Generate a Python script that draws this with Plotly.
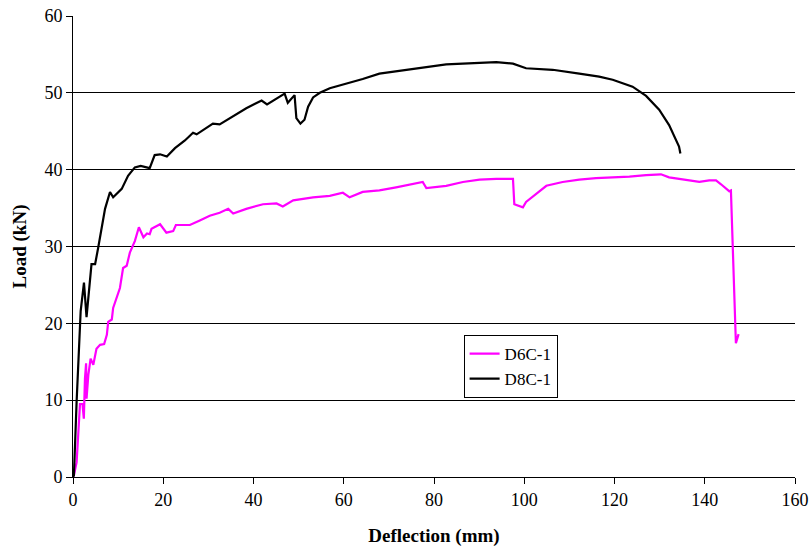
import plotly.graph_objects as go

# D6C-1 (magenta)
d6_x = [0, 0.2, 0.8, 1.2, 1.55, 2.1, 2.4, 2.65, 2.9, 3.0, 3.4, 3.9, 4.5, 5.2, 6.0, 6.9, 7.5, 7.8,
        8.6, 8.9, 10.4, 11.1, 11.9, 12.6, 13.7, 14.6, 15.6, 16.4, 17.0, 17.4, 19.3, 20.7, 22.2, 22.8,
        25.9, 28.1, 30.3, 32.5, 34.4, 35.5, 38.4, 42.1, 45.1, 46.5, 48.8, 53.2, 56.9, 59.8, 61.3,
        64.2, 67.9, 71.6, 75.3, 77.5, 78.3, 82.7, 86.4, 90.1, 93.8, 97.5, 97.8, 99.0, 99.7, 100.4,
        104.9, 108.5, 112.2, 115.9, 123.3, 127.0, 130.3, 132.1, 134.3, 136.5, 138.8, 141.0, 142.5,
        143.6, 144.7, 145.4, 145.8, 146.9, 147.5]
d6_y = [0, 0.2, 1.9, 5.8, 9.5, 9.5, 7.6, 12.8, 14.8, 10.2, 13.3, 15.4, 14.6, 16.7, 17.2, 17.3, 18.5, 20.2,
        20.5, 22.0, 24.6, 27.2, 27.5, 29.2, 30.7, 32.5, 31.2, 31.7, 31.6, 32.3, 32.9, 31.8, 32.0, 32.8,
        32.8, 33.4, 34.0, 34.4, 34.9, 34.3, 34.9, 35.5, 35.6, 35.2, 36.0, 36.4, 36.6, 37.0, 36.4,
        37.1, 37.3, 37.7, 38.2, 38.4, 37.6, 37.9, 38.4, 38.7, 38.8, 38.8, 35.5, 35.2, 35.1, 35.8,
        37.9, 38.4, 38.7, 38.9, 39.1, 39.3, 39.4, 39.0, 38.8, 38.6, 38.4, 38.6, 38.6,
        38.1, 37.5, 37.2, 37.3, 17.4, 18.6]

# D8C-1 (black)
d8_x = [0, 0.2, 0.8, 1.55, 1.7, 2.43, 3.0, 4.1, 4.9, 5.6, 6.35, 7.1, 8.2, 8.9, 10.8, 12.2, 13.7, 14.5,
        15.0, 17.0, 18.1, 19.3, 20.8, 22.6, 24.8, 26.6, 27.4, 31.0, 32.5, 38.4, 41.8, 43.0, 45.4,
        46.9, 47.6, 49.1, 49.5, 50.4, 51.3, 52.1, 53.2, 54.7, 56.9, 60.6, 64.2, 67.9, 75.3, 82.7,
        90.1, 93.8, 97.5, 100.4, 106.3, 110.7, 112.2, 116.6, 119.6, 124.0, 127.0, 129.9, 132.1,
        134.3, 134.6]
d8_y = [0, 0.2, 9.8, 19.8, 21.6, 25.3, 20.8, 27.7, 27.7, 29.9, 32.5, 34.9, 37.1, 36.4, 37.5, 39.2, 40.3, 40.4,
        40.5, 40.2, 41.9, 42.0, 41.7, 42.8, 43.8, 44.8, 44.6, 46.0, 45.9, 48.0, 49.0, 48.5, 49.4,
        49.9, 48.7, 49.7, 46.7, 46.0, 46.5, 48.2, 49.4, 50.0, 50.6, 51.2, 51.8, 52.5, 53.1, 53.7,
        53.9, 54.0, 53.8, 53.2, 53.0, 52.7, 52.5, 52.1, 51.7, 50.8, 49.6, 47.8, 45.8,
        43.0, 42.1]

x_ticks = [0, 20, 40, 60, 80, 100, 120, 140, 160]
y_ticks = [0, 10, 20, 30, 40, 50, 60]

FONT = "Liberation Serif, Times New Roman, serif"

fig = go.Figure()
fig.add_trace(go.Scatter(x=d6_x, y=d6_y, mode="lines", name="D6C-1",
                         line=dict(color="#FF00FF", width=2.2)))
fig.add_trace(go.Scatter(x=d8_x, y=d8_y, mode="lines", name="D8C-1",
                         line=dict(color="#000000", width=2.2)))

fig.update_layout(
    width=810, height=548,
    margin=dict(l=73, r=15, t=16, b=71),
    paper_bgcolor="white", plot_bgcolor="white",
    font=dict(family=FONT, size=18, color="black"),
    showlegend=True,
    legend=dict(x=0.541, y=0.308, xanchor="left", yanchor="top",
                bordercolor="black", borderwidth=1, bgcolor="white",
                font=dict(family=FONT, size=17), tracegroupgap=0,
                itemwidth=30),
    xaxis=dict(range=[0, 160], tickvals=x_ticks, showgrid=False, zeroline=False,
               showline=True, linecolor="black", linewidth=1, automargin=False,
               ticks="outside", ticklen=6, tickcolor="black",
               tickfont=dict(family=FONT, size=18),
               title=dict(text="<b>Deflection (mm)</b>", font=dict(family=FONT, size=19), standoff=20)),
    yaxis=dict(range=[0, 60], tickvals=y_ticks, showgrid=True, gridcolor="black", gridwidth=1,
               zeroline=False, showline=True, linecolor="black", linewidth=1, automargin=False,
               ticks="outside", ticklen=6, tickcolor="black",
               tickfont=dict(family=FONT, size=18),
               title=dict(text="<b>Load (kN)</b>", font=dict(family=FONT, size=19), standoff=12)),
)

fig.write_html("out.html")
